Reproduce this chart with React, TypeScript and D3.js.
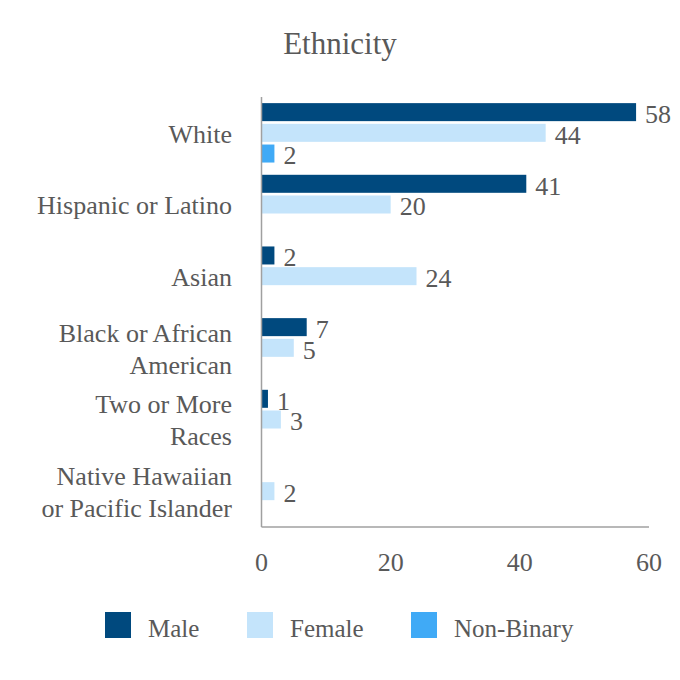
import React, { useEffect, useRef } from "react";
import * as d3 from "d3";

const categories = [
  "White",
  "Hispanic or Latino",
  "Asian",
  "Black or African American",
  "Two or More Races",
  "Native Hawaiian or Pacific Islander",
];
const categoryLines: Record<string, string[]> = {
  "White": ["White"],
  "Hispanic or Latino": ["Hispanic or Latino"],
  "Asian": ["Asian"],
  "Black or African American": ["Black or African", "American"],
  "Two or More Races": ["Two or More", "Races"],
  "Native Hawaiian or Pacific Islander": ["Native Hawaiian", "or Pacific Islander"],
};
const seriesNames = ["Male", "Female", "Non-Binary"];
const maleValues = [58, 41, 2, 7, 1, 0];
const femaleValues = [44, 20, 24, 5, 3, 2];
const nonBinaryValues = [2, 0, 0, 0, 0, 0];
const xTicks = [0, 20, 40, 60];
const colors = ["#00497e", "#c4e4fb", "#40aaf6"];

const FONT = "Liberation Serif";
const TEXT = "#595959";

export default function App() {
  const ref = useRef<SVGSVGElement>(null);

  useEffect(() => {
    if (!ref.current) return;
    const svg = d3.select(ref.current);
    svg.selectAll("*").remove();

    const left = 261.5;
    const right = 649;
    const top = 97;
    const bottom = 527;

    const x = d3.scaleLinear().domain([0, 60]).range([left, right]);
    const y = d3.scaleBand<string>().domain(categories).range([top, bottom]);
    const ySub = d3
      .scaleBand<string>()
      .domain(seriesNames)
      .range([0, y.bandwidth()])
      .paddingInner(0.13)
      .paddingOuter(0.296);

    const seriesValues = [maleValues, femaleValues, nonBinaryValues];

    // title
    svg
      .append("text")
      .attr("x", 340)
      .attr("y", 54)
      .attr("text-anchor", "middle")
      .attr("fill", TEXT)
      .attr("font-family", FONT)
      .attr("font-size", 31)
      .text("Ethnicity");

    // bars + labels (zero values are skipped)
    seriesNames.forEach((name, si) => {
      const g = svg.append("g");
      categories.forEach((cat, ci) => {
        const v = seriesValues[si][ci];
        if (!v) return;
        const yy = (y(cat) as number) + (ySub(name) as number);
        g.append("rect")
          .attr("x", x(0))
          .attr("y", yy)
          .attr("width", x(v) - x(0))
          .attr("height", ySub.bandwidth())
          .attr("fill", colors[si]);
        g.append("text")
          .attr("x", x(v) + 9)
          .attr("y", yy + ySub.bandwidth() / 2)
          .attr("dy", "0.42em")
          .attr("fill", TEXT)
          .attr("font-family", FONT)
          .attr("font-size", 26)
          .text(v);
      });
    });

    // axes lines
    svg
      .append("line")
      .attr("x1", left)
      .attr("x2", left)
      .attr("y1", top)
      .attr("y2", bottom)
      .attr("stroke", "#a0a0a0")
      .attr("stroke-width", 1.5);
    svg
      .append("line")
      .attr("x1", left)
      .attr("x2", right)
      .attr("y1", bottom)
      .attr("y2", bottom)
      .attr("stroke", "#a0a0a0")
      .attr("stroke-width", 1.5);

    // x tick labels
    svg
      .append("g")
      .selectAll("text")
      .data(xTicks)
      .join("text")
      .attr("x", (d) => x(d))
      .attr("y", 571)
      .attr("text-anchor", "middle")
      .attr("fill", TEXT)
      .attr("font-family", FONT)
      .attr("font-size", 26)
      .text((d) => d);

    // category labels
    categories.forEach((cat) => {
      const lines = categoryLines[cat];
      const cy = (y(cat) as number) + y.bandwidth() / 2;
      const lh = 32;
      const t = svg
        .append("text")
        .attr("text-anchor", "end")
        .attr("fill", TEXT)
        .attr("font-family", FONT)
        .attr("font-size", 26);
      lines.forEach((ln, i) => {
        t.append("tspan")
          .attr("x", 232)
          .attr("y", cy + (i - (lines.length - 1) / 2) * lh)
          .attr("dy", "0.38em")
          .text(ln);
      });
    });

    // legend
    const legendX = [105, 247, 411];
    seriesNames.forEach((name, i) => {
      svg
        .append("rect")
        .attr("x", legendX[i])
        .attr("y", 612)
        .attr("width", 26)
        .attr("height", 26)
        .attr("fill", colors[i]);
      svg
        .append("text")
        .attr("x", legendX[i] + 43)
        .attr("y", 637)
        .attr("fill", TEXT)
        .attr("font-family", FONT)
        .attr("font-size", 25)
        .text(name);
    });
  }, []);

  return (
    <svg
      ref={ref}
      width={680}
      height={680}
      style={{ position: "absolute", left: 0, top: 0, background: "#fff" }}
    />
  );
}
